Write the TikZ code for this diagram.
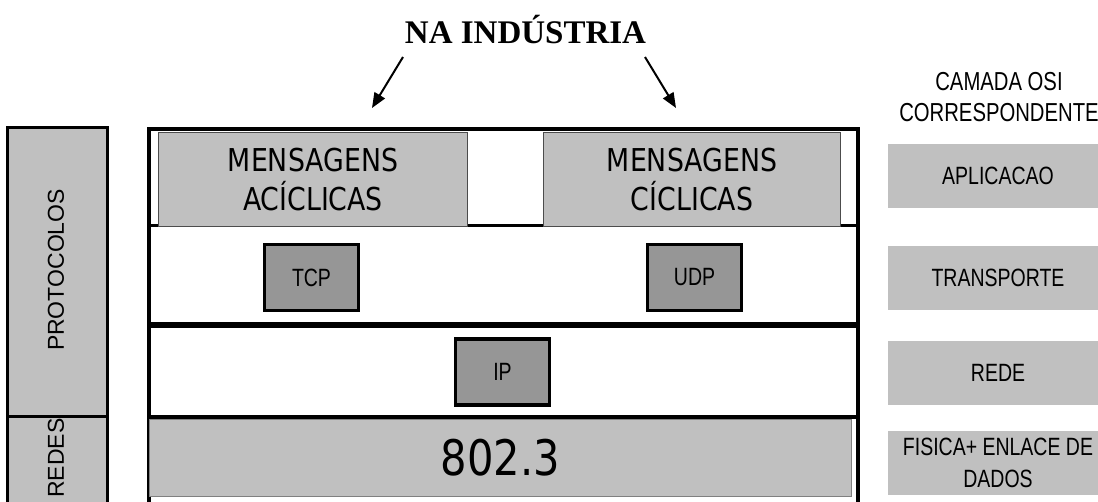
\documentclass[tikz,border=0pt]{standalone}
\usepackage{fontspec}
\setmainfont{Liberation Serif}
\newfontfamily\narrowsans[FakeStretch=0.78]{Liberation Sans}
\newfontfamily\plainsans{Liberation Sans}
\newfontfamily\msgsans[FakeStretch=0.85]{DejaVu Sans}
\usetikzlibrary{arrows.meta}
\definecolor{lightgrey}{HTML}{C0C0C0}
\definecolor{midgrey}{HTML}{969696}

\begin{document}
\begin{tikzpicture}[x=1pt, y=-1pt,
	seta/.style={line width=2pt, -{Triangle[length=15pt, width=12pt]}},
	msgbox/.style={draw=black!70, line width=1.5pt, fill=lightgrey, inner sep=0pt, align=center, font=\msgsans\fontsize{31.5}{39}\selectfont},
	protobox/.style={draw, line width=3.5pt, fill=midgrey, minimum width=94pt, minimum height=66pt, inner sep=0pt, font=\narrowsans\fontsize{25}{30}\selectfont},
	osibox/.style={fill=lightgrey, minimum width=220pt, minimum height=64pt, inner sep=0pt, align=center, font=\narrowsans\fontsize{25}{32}\selectfont},
	sidetext/.style={rotate=90, inner sep=0pt, font=\plainsans\fontsize{23}{28}\selectfont}
	]
	\useasboundingbox (0,0) rectangle (1098,501);

	\node [anchor=base, font=\bfseries\fontsize{33}{40}\selectfont] (titulo) at (525.5,43) {NA INDÚSTRIA};
	\coordinate (e1) at (403,57);
	\coordinate (e2) at (372,108);
	\coordinate (d1) at (645,57);
	\coordinate (d2) at (676,108);
	\draw [seta] (e1) -- (e2);
	\draw [seta] (d1) -- (d2);

	\draw [line width=3pt, fill=lightgrey] (7,127) rectangle (107,416);
	\draw [line width=3pt, fill=lightgrey] (7,416) rectangle (107,520);
	\node [sidetext] (protocolos) at (56,270) {PROTOCOLOS};
	\node [sidetext] (redes) at (56,458) {REDES};

	\draw [line width=3pt] (149,225) -- (858,225);
	\draw [line width=6pt] (149,325) -- (858,325);
	\draw [line width=4pt] (149,417) -- (858,417);
	\draw [line width=4pt] (149,520) -- (149,129) -- (858,129) -- (858,520);

	\node [msgbox, minimum width=309pt, minimum height=94pt] (aciclicas) at (313,179.5) {MENSAGENS\\ACÍCLICAS};
	\node [msgbox, minimum width=297pt, minimum height=94pt] (ciclicas) at (692,179.5) {MENSAGENS\\CÍCLICAS};
	\node [protobox] (tcp) at (311.5,277.5) {TCP};
	\node [protobox] (udp) at (694.5,277.5) {UDP};
	\node [protobox] (ip) at (502.5,372) {IP};
	\node [msgbox, draw=black!50, minimum width=702pt, minimum height=77pt, font=\msgsans\fontsize{49}{55}\selectfont] (ethernet) at (500.5,458) {802.3};

	\node [align=center, font=\narrowsans\fontsize{26}{31}\selectfont] (camada) at (999,97) {CAMADA OSI\\CORRESPONDENTE};
	\node [osibox] (aplicacao) at (998,176) {APLICACAO};
	\node [osibox] (transporte) at (998,278) {TRANSPORTE};
	\node [osibox] (rede) at (998,373) {REDE};
	\node [osibox] (fisica) at (998,463) {FISICA+ ENLACE DE\\DADOS};
\end{tikzpicture}
\end{document}
